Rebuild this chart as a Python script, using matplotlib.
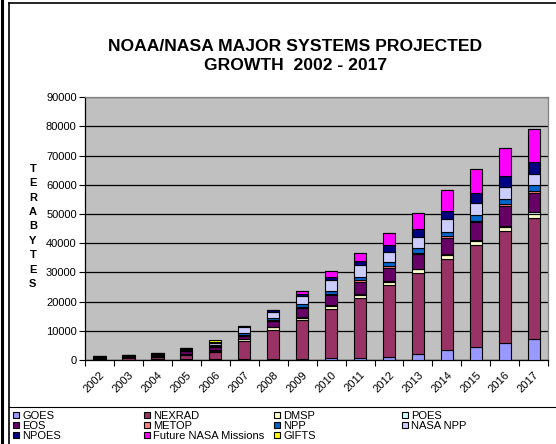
import numpy as np
import matplotlib
matplotlib.use('Agg')
import matplotlib.pyplot as plt
from matplotlib.lines import Line2D

plt.rcParams['font.family'] = ['Liberation Sans', 'DejaVu Sans']

# data (terabytes)
years = ['2002', '2003', '2004', '2005', '2006', '2007', '2008', '2009',
         '2010', '2011', '2012', '2013', '2014', '2015', '2016', '2017']

goes = [150, 150, 200, 250, 400, 400, 500, 500, 600, 700, 1150, 1950, 3300, 4350, 5800, 7100]
nexrad = [300, 700, 900, 1500, 2500, 6200, 9900, 13250, 16830, 20500, 24400, 27700, 31300, 34950, 38300, 41600]
dmsp = [50, 80, 100, 400, 350, 450, 800, 810, 920, 1040, 1150, 1400, 1400, 1490, 1490, 1380]
poes = [50, 50, 50, 100, 150, 150, 230, 230, 340, 350, 250, 200, 230, 340, 340, 460]
eos = [400, 400, 500, 800, 1200, 1200, 1960, 2880, 3580, 4260, 4700, 4920, 5730, 6070, 6880, 6650]
metop = [50, 50, 50, 100, 150, 200, 350, 350, 460, 470, 700, 580, 580, 580, 570, 570]
npp = [50, 80, 100, 200, 300, 600, 690, 1040, 1040, 1260, 1100, 1600, 1480, 1830, 1840, 2060]
nasa_npp = [100, 100, 200, 300, 700, 2000, 2080, 2990, 3800, 4040, 3700, 3900, 4130, 4240, 4120, 3900]
npoes = [250, 200, 300, 550, 400, 300, 500, 580, 1040, 1270, 2100, 2520, 2750, 3200, 3670, 4010]
future_nasa = [0, 0, 0, 0, 0, 0, 100, 1040, 1730, 2880, 4250, 5500, 7220, 8480, 9630, 11230]
gifts = [0, 0, 0, 0, 650, 0, 0, 0, 0, 0, 0, 0, 0, 0, 0, 0]

series = [
    ('GOES', goes, '#9999FF'),
    ('NEXRAD', nexrad, '#993366'),
    ('DMSP', dmsp, '#FFFFCC'),
    ('POES', poes, '#CCFFFF'),
    ('EOS', eos, '#660066'),
    ('METOP', metop, '#FF8080'),
    ('NPP', npp, '#0066CC'),
    ('NASA NPP', nasa_npp, '#CCCCFF'),
    ('NPOES', npoes, '#000080'),
    ('Future NASA Missions', future_nasa, '#FF00FF'),
    ('GIFTS', gifts, '#FFFF00'),
]

fig = plt.figure(figsize=(5.56, 4.44), dpi=100)
fig.patch.set_facecolor('white')
ax = fig.add_axes([0.153, 0.189, 0.833, 0.592])
ax.set_facecolor('#C0C0C0')

x = np.arange(len(years))
bottom = np.zeros(len(years))
handles = {}
for name, vals, col in series:
    vals = np.array(vals, dtype=float)
    bars = ax.bar(x, vals, width=0.42, bottom=bottom, color=col,
                  edgecolor='black', linewidth=0.8, zorder=3, label=name)
    handles[name] = bars
    bottom += vals

ax.set_xlim(-0.5, len(years) - 0.5)
ax.set_ylim(0, 90000)
ax.set_yticks(np.arange(0, 90001, 10000))
ax.yaxis.grid(True, color='black', linewidth=0.9, zorder=0)
ax.tick_params(axis='y', labelsize=8, length=4, width=0.8, pad=2, direction='out')

# category boundaries get tick marks, centres get the labels
ax.set_xticks(np.arange(-0.5, len(years), 1.0))
ax.set_xticklabels([])
ax.set_xticks(x, minor=True)
ax.set_xticklabels(years, minor=True, rotation=45, ha='right',
                   rotation_mode='anchor', fontsize=8)
ax.tick_params(axis='x', which='major', length=4, width=0.8, direction='out')
ax.tick_params(axis='x', which='minor', length=0, pad=7)

for s in ['left', 'bottom']:
    ax.spines[s].set_color('black')
    ax.spines[s].set_linewidth(0.9)
for s in ['top', 'right']:
    ax.spines[s].set_color('#808080')
    ax.spines[s].set_linewidth(0.9)

fig.text(0.531, 0.874, 'NOAA/NASA MAJOR SYSTEMS PROJECTED\nGROWTH  2002 - 2017',
         ha='center', va='center', fontsize=12.6, fontweight='bold',
         linespacing=1.4)

fig.text(0.059, 0.490, '\n'.join('TERABYTES'), ha='center', va='center',
         fontsize=8, fontweight='bold', linespacing=1.55)

# legend, four columns filled row by row
cols = [['GOES', 'EOS', 'NPOES'],
        ['NEXRAD', 'METOP', 'Future NASA Missions'],
        ['DMSP', 'NPP', 'GIFTS'],
        ['POES', 'NASA NPP']]
col_x = [22, 153, 283, 411]
for names, cx in zip(cols, col_x):
    fig.legend([handles[n] for n in names], names, loc='upper left',
               bbox_to_anchor=((cx - 9) / 556, 1 - 411 / 444),
               frameon=False, fontsize=8, handlelength=0.55, handleheight=0.55,
               handletextpad=0.3, labelspacing=0.0, borderpad=0,
               borderaxespad=0)

# chart frame lines
fig.add_artist(Line2D([1.5 / 556, 1.5 / 556], [0, 1], color='black', linewidth=2.2))
fig.add_artist(Line2D([9 / 556, 9 / 556], [0, 1 - 3 / 444], color='black', linewidth=1.2))
fig.add_artist(Line2D([9 / 556, 1], [1 - 3.5 / 444, 1 - 3.5 / 444], color='black', linewidth=1.2))
fig.add_artist(Line2D([9 / 556, 1], [1 - 407 / 444, 1 - 407 / 444], color='black', linewidth=0.8))

fig.savefig('out.png', dpi=100)
